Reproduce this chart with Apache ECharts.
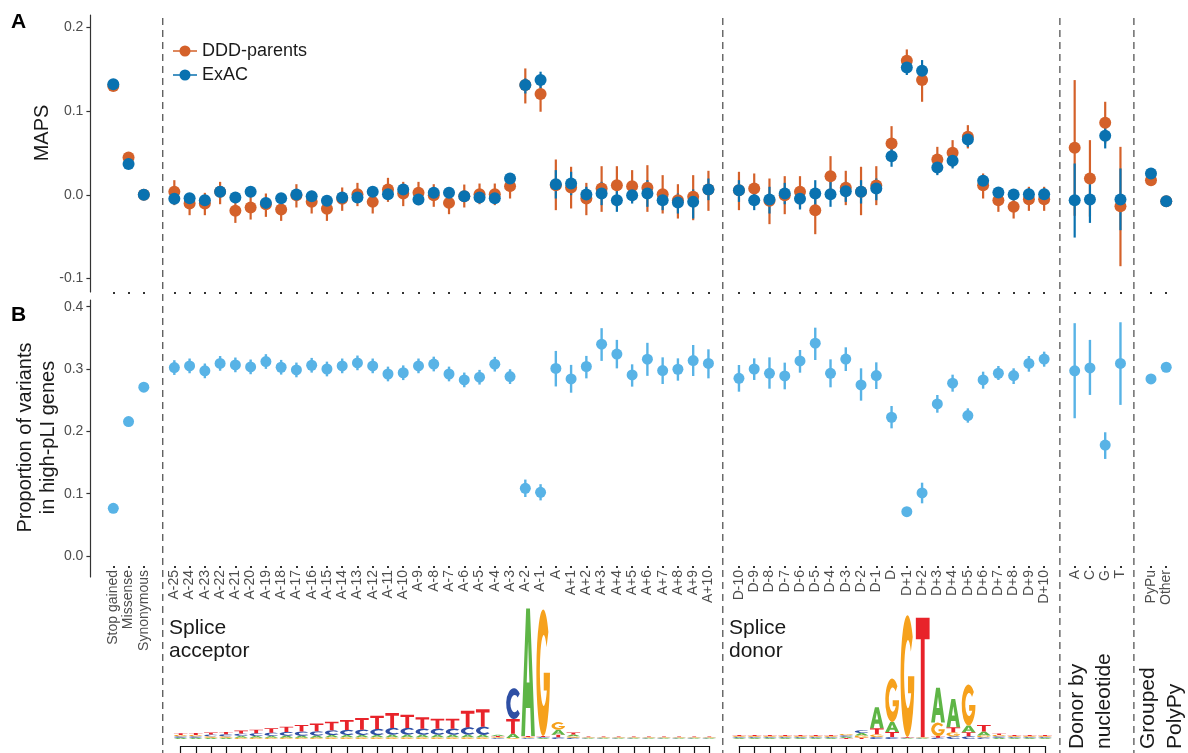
<!DOCTYPE html>
<html>
<head>
<meta charset="utf-8">
<script src="https://cdn.jsdelivr.net/npm/echarts@6/dist/echarts.min.js"></script>
<style>
  html, body { margin: 0; padding: 0; background: #fff; }
  #chart { width: 1188px; height: 753px; }
</style>
</head>
<body>
<div id="chart"></div>
<script>
// ---- categories (x axis, left to right) ----
const baseCats = ['Stop gained', 'Missense', 'Synonymous'];
const acceptorCats = ['A-25','A-24','A-23','A-22','A-21','A-20','A-19','A-18','A-17','A-16','A-15','A-14','A-13',
  'A-12','A-11','A-10','A-9','A-8','A-7','A-6','A-5','A-4','A-3','A-2','A-1','A',
  'A+1','A+2','A+3','A+4','A+5','A+6','A+7','A+8','A+9','A+10'];
const donorCats = ['D-10','D-9','D-8','D-7','D-6','D-5','D-4','D-3','D-2','D-1','D',
  'D+1','D+2','D+3','D+4','D+5','D+6','D+7','D+8','D+9','D+10'];
const nucCats = ['A', 'C', 'G', 'T'];
const polyCats = ['PyPu', 'Other'];

// ---- panel A: MAPS ----
const mapsDDD = [
  0.130, 0.0447, 0.0,
  0.0036, -0.0104, -0.0104, 0.0036, -0.0191, -0.0151, -0.0112, -0.0175, -0.0004, -0.0084, -0.0167, -0.0048, 0.0008,
  -0.0084, 0.0064, 0.0016, 0.0024, -0.0004, -0.0096, -0.0016, 0.0008, 0.0008, 0.0104, 0.131, 0.1203, 0.0115,
  0.0088, -0.0044, 0.0076, 0.0115, 0.0104, 0.0084, 0.0008, -0.0064, -0.0024, 0.0064,
  0.0056, 0.0076, -0.0072, -0.0004, 0.0036, -0.0183, 0.0223, 0.0084, 0.0036, 0.0112, 0.0613,
  0.1601, 0.137, 0.0422, 0.0502, 0.0693, 0.0115, -0.0064, -0.0143, -0.0052, -0.0052,
  0.0562, 0.0195, 0.086, -0.0135,
  0.0175, -0.0076
];
const mapsDDDLo = [
  0.126, 0.0427, -0.002,
  -0.0123, -0.0243, -0.0243, -0.0112, -0.0335, -0.0295, -0.0263, -0.0311, -0.0151, -0.0223, -0.0311, -0.0191, -0.0135,
  -0.0223, -0.0084, -0.0135, -0.0123, -0.0143, -0.0231, -0.0151, -0.0112, -0.0123, -0.0044, 0.1091, 0.0992, -0.0183,
  -0.0163, -0.0243, -0.0203, -0.0143, -0.0084, -0.0203, -0.0223, -0.0283, -0.0303, -0.0191,
  -0.0183, -0.0104, -0.035, -0.0231, -0.0163, -0.047, -0.0024, -0.0123, -0.0243, -0.0123, 0.0414,
  0.1471, 0.1111, 0.0255, 0.0335, 0.0554, -0.0044, -0.0203, -0.0283, -0.0191, -0.0191,
  -0.025, -0.026, 0.0613, -0.0852,
  0.0115, -0.0096
];
const mapsDDDHi = [
  0.134, 0.0467, 0.002,
  0.0175, 0.0016, 0.0024, 0.0155, -0.0064, -0.0024, 0.0016, -0.0044, 0.0127, 0.0048, -0.0032, 0.0088, 0.0143,
  0.0048, 0.0203, 0.0155, 0.0155, 0.0127, 0.0024, 0.0123, 0.0135, 0.0135, 0.0235, 0.1509, 0.133, 0.0422,
  0.0335, 0.0143, 0.0342, 0.0342, 0.0295, 0.0354, 0.0235, 0.0127, 0.0235, 0.0287,
  0.0275, 0.0255, 0.0195, 0.0223, 0.0223, 0.0016, 0.0462, 0.0287, 0.0335, 0.0342, 0.082,
  0.1736, 0.1489, 0.0573, 0.0653, 0.0832, 0.0255, 0.0076, -0.0004, 0.0096, 0.0096,
  0.137, 0.0653, 0.1111, 0.0573,
  0.0223, -0.0056
];
const mapsExac = [
  0.132, 0.0367, 0.0,
  -0.0048, -0.004, -0.0064, 0.0036, -0.0032, 0.0036, -0.0096, -0.004, 0.0004, -0.0016, -0.0072, -0.0032, -0.0032,
  0.0036, 0.0008, 0.0064, -0.0056, 0.0024, 0.0024, -0.0016, -0.0032, -0.004, 0.0195, 0.131, 0.137, 0.0127,
  0.0135, 0.0004, 0.0016, -0.0064, -0.0004, 0.0016, -0.0064, -0.0092, -0.0084, 0.0064,
  0.0056, -0.0064, -0.0056, 0.0016, -0.0048, 0.0016, 0.0008, 0.0044, 0.0036, 0.0076, 0.0462,
  0.1521, 0.1481, 0.0327, 0.0406, 0.0661, 0.0167, 0.0028, 0.0004, 0.0008, 0.0008,
  -0.0064, -0.0056, 0.0705, -0.0056,
  0.0255, -0.0076
];
const mapsExacLo = [
  0.130, 0.0357, -0.001,
  -0.0104, -0.0092, -0.0118, -0.0018, -0.0086, -0.0016, -0.0152, -0.0094, -0.0048, -0.0068, -0.0126, -0.0084, -0.0086,
  -0.0016, -0.0046, 0.0012, -0.0108, -0.0028, -0.0028, -0.0068, -0.0084, -0.0092, 0.0155, 0.121, 0.127, -0.0044,
  -0.0004, -0.0104, -0.0123, -0.0203, -0.0104, -0.0143, -0.0183, -0.0223, -0.0283, -0.0064,
  -0.0084, -0.0183, -0.0223, -0.0112, -0.0175, -0.0143, -0.0143, -0.0084, -0.0104, -0.0064, 0.0335,
  0.1431, 0.137, 0.0235, 0.0315, 0.0573, 0.0096, -0.0044, -0.0064, -0.0064, -0.0064,
  -0.051, -0.0335, 0.0554, -0.0422,
  0.0195, -0.0086
];
const mapsExacHi = [
  0.134, 0.0377, 0.001,
  0.0008, 0.0012, -0.001, 0.009, 0.0022, 0.009, -0.004, 0.0014, 0.0056, 0.0036, -0.0018, 0.002, 0.002,
  0.009, 0.006, 0.0116, -0.0004, 0.0076, 0.0076, 0.0036, 0.002, 0.0012, 0.0235, 0.139, 0.147, 0.0295,
  0.0275, 0.0096, 0.0155, 0.0056, 0.0116, 0.0175, 0.0036, 0.0016, 0.0064, 0.0195,
  0.0175, 0.0036, 0.0096, 0.0143, 0.0076, 0.0175, 0.0155, 0.0155, 0.0175, 0.0195, 0.0573,
  0.1609, 0.1609, 0.0394, 0.0474, 0.0733, 0.0235, 0.0088, 0.0064, 0.0076, 0.0076,
  0.0374, 0.0215, 0.0852, 0.0315,
  0.0295, -0.0066
];

// ---- panel B: proportion of variants in high-pLI genes ----
const propHigh = [
  0.0765, 0.2156, 0.2708,
  0.3023, 0.305, 0.297, 0.309, 0.3066, 0.3034, 0.312, 0.3028, 0.2985, 0.306, 0.300, 0.305, 0.3098,
  0.305, 0.292, 0.294, 0.305, 0.308, 0.292, 0.2825, 0.2868, 0.3077, 0.2878, 0.1086, 0.1022, 0.301,
  0.284, 0.304, 0.3398, 0.324, 0.2905, 0.3157, 0.2975, 0.2996, 0.3135, 0.309,
  0.285, 0.300, 0.293, 0.2889, 0.313, 0.3414, 0.293, 0.316, 0.2745, 0.2894, 0.2226,
  0.0711, 0.1011, 0.244, 0.2772, 0.2252, 0.2825, 0.2932, 0.2894, 0.309, 0.316,
  0.297, 0.3018, 0.178, 0.309,
  0.284, 0.3028
];
const propLo = [
  0.0745, 0.2141, 0.2693,
  0.2905, 0.2932, 0.2852, 0.2972, 0.2948, 0.2916, 0.3002, 0.291, 0.2867, 0.2942, 0.2882, 0.2932, 0.298,
  0.2932, 0.2802, 0.2822, 0.2932, 0.2962, 0.2802, 0.2707, 0.275, 0.2959, 0.276, 0.0946, 0.0892, 0.272,
  0.262, 0.285, 0.313, 0.301, 0.2717, 0.289, 0.2759, 0.2813, 0.2888, 0.285,
  0.2636, 0.2824, 0.2684, 0.2674, 0.2941, 0.3144, 0.2706, 0.2968, 0.2492, 0.2679, 0.2048,
  0.068, 0.0845, 0.2299, 0.2636, 0.2139, 0.2684, 0.2824, 0.2759, 0.2957, 0.3037,
  0.221, 0.2584, 0.1557, 0.2424,
  0.2825, 0.3013
];
const propHi = [
  0.0785, 0.2171, 0.2723,
  0.3141, 0.3168, 0.3088, 0.3208, 0.3184, 0.3152, 0.3238, 0.3146, 0.3103, 0.3178, 0.3118, 0.3168, 0.3216,
  0.3168, 0.3038, 0.3058, 0.3168, 0.3198, 0.3038, 0.2943, 0.2986, 0.3195, 0.2996, 0.1226, 0.1152, 0.329,
  0.3066, 0.321, 0.3655, 0.3467, 0.3075, 0.342, 0.3187, 0.3171, 0.3385, 0.3316,
  0.3064, 0.3171, 0.3187, 0.3102, 0.3305, 0.3663, 0.3155, 0.3348, 0.3011, 0.3107, 0.2406,
  0.074, 0.1176, 0.2583, 0.2909, 0.2369, 0.2957, 0.3048, 0.3011, 0.3209, 0.3278,
  0.3735, 0.3467, 0.1985, 0.375,
  0.2855, 0.3043
];

// ---- sequence logos (bits), one value per position ----
const accLogoA = [0.021,0.021,0.021,0.021,0.026,0.026,0.026,0.031,0.031,0.031,0.036,0.036,0.036,0.036,0.041,0.041,0.041,0.041,0.041,0.041,0.041,
  0.021,0.067,1.964,0.015,0.077,0.026,0.01,0.01,0.01,0.01,0.01,0.01,0.01,0.01,0.01];
const accLogoC = [0.021,0.021,0.026,0.031,0.036,0.041,0.051,0.056,0.062,0.067,0.072,0.077,0.082,0.092,0.103,0.103,0.092,0.092,0.092,0.113,0.123,
  0.015,0.472,0.015,0.015,0.026,0.021,0.01,0.01,0.01,0.01,0.01,0.01,0.01,0.01,0.01];
const accLogoG = [0.021,0.021,0.021,0.021,0.021,0.021,0.021,0.021,0.021,0.021,0.026,0.026,0.026,0.026,0.026,0.026,0.026,0.026,0.026,0.026,0.026,
  0.015,0.015,0.015,1.949,0.113,0.021,0.01,0.01,0.01,0.01,0.01,0.01,0.01,0.01,0.01];
const accLogoT = [0.026,0.031,0.031,0.036,0.046,0.056,0.067,0.082,0.103,0.118,0.133,0.154,0.179,0.205,0.231,0.205,0.174,0.154,0.154,0.256,0.267,
  0.015,0.226,0.015,0.015,0.041,0.031,0.01,0.01,0.01,0.01,0.01,0.01,0.01,0.01,0.01];
const donLogoA = [0.015,0.015,0.015,0.015,0.015,0.015,0.015,0.021,0.041,0.323,0.154,0.01,0.01,0.538,0.436,0.103,0.062,0.021,0.015,0.015,0.015];
const donLogoC = [0.015,0.015,0.015,0.015,0.015,0.015,0.015,0.021,0.041,0.031,0.031,0.01,0.01,0.021,0.041,0.041,0.026,0.021,0.015,0.015,0.015];
const donLogoG = [0.015,0.015,0.015,0.015,0.015,0.015,0.015,0.021,0.031,0.041,0.667,1.872,0.01,0.205,0.062,0.631,0.026,0.021,0.015,0.015,0.015];
const donLogoT = [0.015,0.015,0.015,0.015,0.015,0.015,0.015,0.015,0.021,0.092,0.077,0.01,1.836,0.026,0.077,0.062,0.103,0.021,0.015,0.015,0.015];

// dashed separators between groups (x position in slot units)
const dividers = [3.24, 39.94, 62.03, 66.88];

// ---- layout / style ----
const FONT = "'Liberation Sans', Arial, Helvetica, sans-serif";
const ORANGE = '#D4612A';
const BLUE = '#0A72B0';
const SKY = '#58B3E6';
const AXIS = '#333333';
const TICKTXT = '#4D4D4D';
const LETTER_COLORS = ['#5EB546', '#2E4FA4', '#F6A11C', '#E8232A'];
const LETTER_PATHS = [
  'M0,100 L36,0 L64,0 L100,100 L73,100 L66,78 L34,78 L27,100 Z M40,58 L60,58 L50,26 Z',
  'M88.3,17.9 A50,50 0 1,0 88.3,82.1 L75,70 A28,28 0 1,1 75,30 Z',
  'M88.3,17.9 A50,50 0 1,0 100,50 L54,50 L54,64 L77,64 A28,28 0 1,1 75,30 Z',
  'M0,0 L100,0 L100,18 L64,18 L64,100 L36,100 L36,18 L0,18 Z'
];
const LEGEND_ICON = 'path://M0,5.2 L26,5.2 L26,6.8 L0,6.8 Z M19,6 A6,6 0 1,1 7,6 A6,6 0 1,1 19,6 Z';

// slot index for every category (one empty slot between groups)
const groups = [baseCats, acceptorCats, donorCats, nucCats, polyCats];
const slotOf = [];
const slotLabel = {};
let s = 0;
groups.forEach((g, gi) => {
  if (gi > 0) s++;
  g.forEach(c => { slotLabel[s] = c; slotOf.push(s); s++; });
});

const xMin = -1.5, xMax = 70;
const gridLeft = 90.4, gridRight = 6.5;

const pts = vals => vals.map((v, i) => [slotOf[i], v]);
const bars = (lo, hi) => lo.map((v, i) => [slotOf[i], v, hi[i]]);

function barRenderer(color, width) {
  return (params, api) => {
    const a = api.coord([api.value(0), api.value(1)]);
    const b = api.coord([api.value(0), api.value(2)]);
    return { type: 'line', shape: { x1: a[0], y1: a[1], x2: b[0], y2: b[1] },
      style: { stroke: color, lineWidth: width } };
  };
}

function renderDivider(params, api) {
  const x = api.coord([api.value(0), 0])[0];
  const cs = params.coordSys;
  return { type: 'line', shape: { x1: x, y1: cs.y, x2: x, y2: cs.y + cs.height },
    style: { stroke: '#555', lineWidth: 1.3, lineDash: [7, 5] } };
}

function renderLogo(params, api) {
  const hs = [api.value(1), api.value(2), api.value(3), api.value(4)];
  const order = [0, 1, 2, 3].sort((a, b) => hs[a] - hs[b]);
  const base = api.coord([api.value(0), 0]);
  const w = api.size([1, 0])[0] * 0.9;
  const unit = api.size([0, 1])[1];
  let y = base[1];
  const children = [];
  order.forEach(k => {
    const h = hs[k] * unit;
    if (h >= 0.4) {
      children.push({ type: 'path',
        shape: { pathData: LETTER_PATHS[k], x: base[0] - w / 2, y: y - h, width: w, height: h, layout: 'cover' },
        style: { fill: LETTER_COLORS[k] } });
    }
    y -= h;
  });
  return { type: 'group', children };
}

const logoData = (A, C, G, T) => A.map((v, i) => [i + 1, v, C[i], G[i], T[i]]);

const tickSlots = slotOf.slice();

const chart = echarts.init(document.getElementById('chart'), null, { renderer: 'canvas' });

chart.setOption({
  animation: false,
  backgroundColor: '#fff',
  textStyle: { fontFamily: FONT },
  legend: {
    orient: 'vertical', left: 168, top: 37, itemWidth: 24, itemHeight: 12, itemGap: 6,
    textStyle: { fontSize: 18, color: '#1a1a1a', fontFamily: FONT },
    data: [{ name: 'DDD-parents', icon: LEGEND_ICON }, { name: 'ExAC', icon: LEGEND_ICON }]
  },
  grid: [
    { left: gridLeft, right: gridRight, top: 15, height: 277, outerBoundsMode: 'none' },
    { left: gridLeft, right: gridRight, top: 300, height: 277, outerBoundsMode: 'none' },
    { left: gridLeft, right: gridRight, top: 18, bottom: 0, outerBoundsMode: 'none' },
    { left: 180.7, width: 528.6, top: 609, height: 130, outerBoundsMode: 'none' },
    { left: 739.3, width: 305.7, top: 609, height: 130, outerBoundsMode: 'none' }
  ],
  xAxis: [
    { gridIndex: 0, type: 'value', min: xMin, max: xMax, splitLine: { show: false },
      axisLine: { show: false, onZero: false },
      axisTick: { show: true, customValues: tickSlots, length: 2, lineStyle: { color: AXIS, width: 2 } },
      axisLabel: { show: false } },
    { gridIndex: 1, type: 'value', min: xMin, max: xMax, splitLine: { show: false }, offset: -11,
      axisLine: { show: false, onZero: false },
      axisTick: { show: true, customValues: tickSlots, length: 2, lineStyle: { color: AXIS, width: 2 } },
      axisLabel: { show: true, customValues: tickSlots, rotate: 90, margin: 4, fontSize: 14, color: TICKTXT,
        fontFamily: FONT, formatter: v => slotLabel[Math.round(v)] || '' } },
    { gridIndex: 2, type: 'value', min: xMin, max: xMax, show: false },
    { gridIndex: 3, type: 'value', min: 1, max: 36, interval: 1, offset: 7, splitLine: { show: false },
      axisLine: { show: true, onZero: false, lineStyle: { color: '#111', width: 1.2 } },
      axisTick: { show: true, length: 7, lineStyle: { color: '#111', width: 1.2 } },
      axisLabel: { show: false } },
    { gridIndex: 4, type: 'value', min: 1, max: 21, interval: 1, offset: 7, splitLine: { show: false },
      axisLine: { show: true, onZero: false, lineStyle: { color: '#111', width: 1.2 } },
      axisTick: { show: true, length: 7, lineStyle: { color: '#111', width: 1.2 } },
      axisLabel: { show: false } }
  ],
  yAxis: [
    { gridIndex: 0, type: 'value', min: -0.116, max: 0.2147, splitLine: { show: false },
      axisLine: { show: true, onZero: false, lineStyle: { color: AXIS, width: 1.2 } },
      axisTick: { show: true, customValues: [-0.1, 0, 0.1, 0.2], length: 4, lineStyle: { color: AXIS, width: 1.2 } },
      axisLabel: { customValues: [-0.1, 0, 0.1, 0.2], margin: 7, fontSize: 14, color: TICKTXT, fontFamily: FONT,
        formatter: v => v.toFixed(1) } },
    { gridIndex: 1, type: 'value', min: -0.0337, max: 0.4107, splitLine: { show: false },
      axisLine: { show: true, onZero: false, lineStyle: { color: AXIS, width: 1.2 } },
      axisTick: { show: true, customValues: [0, 0.1, 0.2, 0.3, 0.4], length: 4, lineStyle: { color: AXIS, width: 1.2 } },
      axisLabel: { customValues: [0, 0.1, 0.2, 0.3, 0.4], margin: 7, fontSize: 14, color: TICKTXT, fontFamily: FONT,
        formatter: v => v.toFixed(1) } },
    { gridIndex: 2, type: 'value', min: 0, max: 1, show: false },
    { gridIndex: 3, type: 'value', min: 0, max: 2, show: false },
    { gridIndex: 4, type: 'value', min: 0, max: 2, show: false }
  ],
  graphic: [
    { type: 'text', left: 11, top: 12, style: { text: 'A', font: `bold 21px ${FONT}`, fill: '#000' } },
    { type: 'text', left: 11, top: 305, style: { text: 'B', font: `bold 21px ${FONT}`, fill: '#000' } },
    { type: 'text', x: 42.7, y: 133, rotation: Math.PI / 2,
      style: { text: 'MAPS', font: `20px ${FONT}`, fill: '#1a1a1a', textAlign: 'center', textVerticalAlign: 'middle', verticalAlign: 'middle' } },
    { type: 'text', x: 36.5, y: 437.5, rotation: Math.PI / 2,
      style: { text: 'Proportion of variants\nin high-pLI genes', font: `20px ${FONT}`, lineHeight: 23, fill: '#1a1a1a',
        textAlign: 'center', textVerticalAlign: 'middle', verticalAlign: 'middle' } },
    { type: 'text', x: 169, y: 617,
      style: { text: 'Splice\nacceptor', font: `21px ${FONT}`, lineHeight: 23, fill: '#1a1a1a', textAlign: 'left', textVerticalAlign: 'top', verticalAlign: 'top' } },
    { type: 'text', x: 729, y: 617,
      style: { text: 'Splice\ndonor', font: `21px ${FONT}`, lineHeight: 23, fill: '#1a1a1a', textAlign: 'left', textVerticalAlign: 'top', verticalAlign: 'top' } },
    { type: 'text', x: 1064, y: 749, rotation: Math.PI / 2,
      style: { text: 'Donor by\nnucleotide', font: `21px ${FONT}`, lineHeight: 27, fill: '#1a1a1a', textAlign: 'left', textVerticalAlign: 'top', verticalAlign: 'top' } },
    { type: 'text', x: 1135, y: 749, rotation: Math.PI / 2,
      style: { text: 'Grouped\nPolyPy', font: `21px ${FONT}`, lineHeight: 27, fill: '#1a1a1a', textAlign: 'left', textVerticalAlign: 'top', verticalAlign: 'top' } }
  ],
  series: [
    { type: 'custom', name: 'dividers', xAxisIndex: 2, yAxisIndex: 2, silent: true, z: 1,
      renderItem: renderDivider, data: dividers.map(v => [v, 0]) },

    { type: 'custom', name: 'DDD-parents range', xAxisIndex: 0, yAxisIndex: 0, silent: true,
      renderItem: barRenderer(ORANGE, 2.2), data: bars(mapsDDDLo, mapsDDDHi) },
    { type: 'scatter', name: 'DDD-parents', xAxisIndex: 0, yAxisIndex: 0, symbolSize: 12,
      itemStyle: { color: ORANGE, opacity: 1 }, data: pts(mapsDDD) },
    { type: 'custom', name: 'ExAC range', xAxisIndex: 0, yAxisIndex: 0, silent: true,
      renderItem: barRenderer(BLUE, 2.2), data: bars(mapsExacLo, mapsExacHi) },
    { type: 'scatter', name: 'ExAC', xAxisIndex: 0, yAxisIndex: 0, symbolSize: 12,
      itemStyle: { color: BLUE, opacity: 1 }, data: pts(mapsExac) },

    { type: 'custom', name: 'high-pLI range', xAxisIndex: 1, yAxisIndex: 1, silent: true,
      renderItem: barRenderer(SKY, 2.4), data: bars(propLo, propHi) },
    { type: 'scatter', name: 'high-pLI', xAxisIndex: 1, yAxisIndex: 1, symbolSize: 11,
      itemStyle: { color: SKY, opacity: 1 }, data: pts(propHigh) },

    { type: 'custom', name: 'acceptor logo', xAxisIndex: 3, yAxisIndex: 3, silent: true,
      renderItem: renderLogo, data: logoData(accLogoA, accLogoC, accLogoG, accLogoT) },
    { type: 'custom', name: 'donor logo', xAxisIndex: 4, yAxisIndex: 4, silent: true,
      renderItem: renderLogo, data: logoData(donLogoA, donLogoC, donLogoG, donLogoT) }
  ]
});
</script>
</body>
</html>
